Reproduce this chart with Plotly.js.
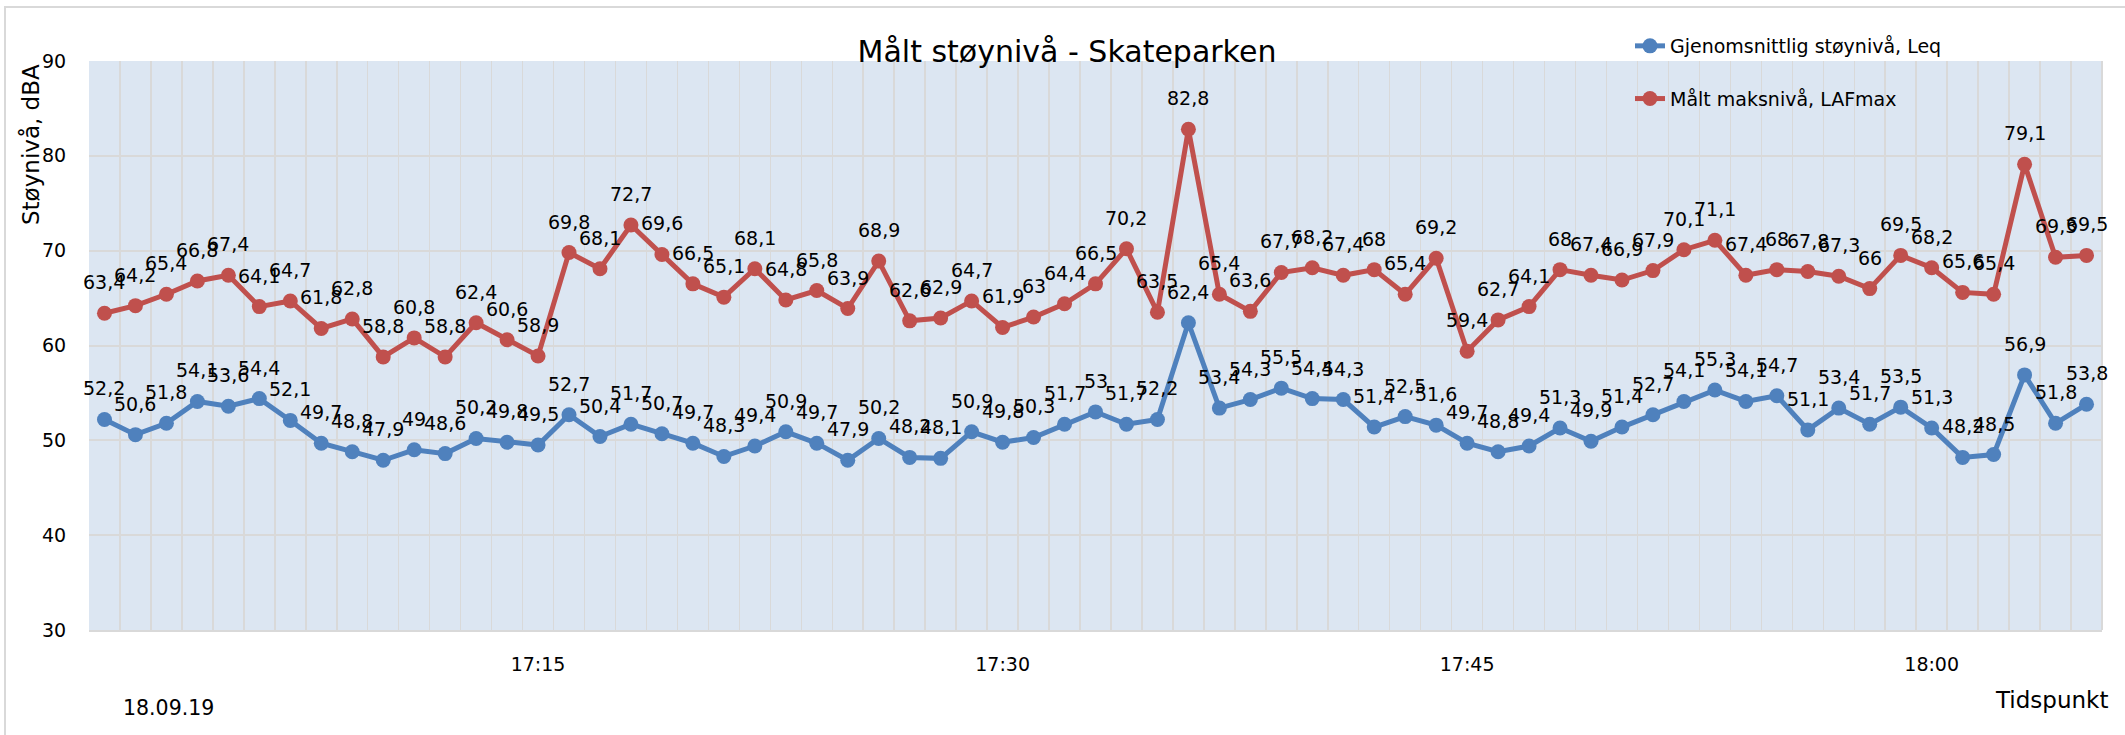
<!DOCTYPE html>
<html>
<head>
<meta charset="utf-8">
<script src="https://cdn.plot.ly/plotly-3.0.1.min.js"></script>
<style>html,body{margin:0;padding:0;background:#fff;}#chart{width:2125px;height:735px;}</style>
</head>
<body>
<div id="chart"></div>
<script>
const times = ['17:01','17:02','17:03','17:04','17:05','17:06','17:07','17:08','17:09','17:10',
  '17:11','17:12','17:13','17:14','17:15','17:16','17:17','17:18','17:19','17:20',
  '17:21','17:22','17:23','17:24','17:25','17:26','17:27','17:28','17:29','17:30',
  '17:31','17:32','17:33','17:34','17:35','17:36','17:37','17:38','17:39','17:40',
  '17:41','17:42','17:43','17:44','17:45','17:46','17:47','17:48','17:49','17:50',
  '17:51','17:52','17:53','17:54','17:55','17:56','17:57','17:58','17:59','18:00',
  '18:01','18:02','18:03','18:04','18:05'];
const tickLabels = ['17:15','17:30','17:45','18:00'];
const leq = [52.2,50.6,51.8,54.1,53.6,54.4,52.1,49.7,48.8,47.9,
  49,48.6,50.2,49.8,49.5,52.7,50.4,51.7,50.7,49.7,
  48.3,49.4,50.9,49.7,47.9,50.2,48.2,48.1,50.9,49.8,
  50.3,51.7,53,51.7,52.2,62.4,53.4,54.3,55.5,54.4,
  54.3,51.4,52.5,51.6,49.7,48.8,49.4,51.3,49.9,51.4,
  52.7,54.1,55.3,54.1,54.7,51.1,53.4,51.7,53.5,51.3,
  48.2,48.5,56.9,51.8,53.8];
const lafmax = [63.4,64.2,65.4,66.8,67.4,64.1,64.7,61.8,62.8,58.8,
  60.8,58.8,62.4,60.6,58.9,69.8,68.1,72.7,69.6,66.5,
  65.1,68.1,64.8,65.8,63.9,68.9,62.6,62.9,64.7,61.9,
  63,64.4,66.5,70.2,63.5,82.8,65.4,63.6,67.7,68.2,
  67.4,68,65.4,69.2,59.4,62.7,64.1,68,67.4,66.9,
  67.9,70.1,71.1,67.4,68,67.8,67.3,66,69.5,68.2,
  65.6,65.4,79.1,69.3,69.5];
const seriesNames = ['Gjenomsnittlig støynivå, Leq', 'Målt maksnivå, LAFmax'];
const colors = ['#4F81BD', '#C0504D'];

const FONT = '"DejaVu Sans", Verdana, sans-serif';
const W = 2125, H = 735;
const M = {l: 89, r: 23, t: 61, b: 105};
const pw = W - M.l - M.r, ph = H - M.t - M.b;
const px = x => (x - M.l) / pw;
const py = y => (H - M.b - y) / ph;

function mk(name, y, color, grp) {
  return {
    type: 'scatter', mode: 'lines+markers', name: name, x: times, y: y,
    legendgroup: grp,
    line: {color: color, width: 5},
    marker: {color: color, size: 15},
    hoverinfo: 'x+y'
  };
}
const data = [mk(seriesNames[0], leq, colors[0], 'a'), mk(seriesNames[1], lafmax, colors[1], 'b')];

const fmt = v => String(v).replace('.', ',');
const annotations = [];
[leq, lafmax].forEach(arr => {
  arr.forEach((v, i) => {
    annotations.push({x: times[i], y: v, xref: 'x', yref: 'y', text: fmt(v), showarrow: false,
      yshift: 31, font: {family: FONT, size: 19, color: '#000'}});
  });
});
annotations.push({xref: 'paper', yref: 'paper', x: px(30), y: py(145), text: 'Støynivå, dBA',
  textangle: -90, showarrow: false, xanchor: 'center', yanchor: 'middle',
  font: {family: FONT, size: 23, color: '#000'}});
annotations.push({xref: 'paper', yref: 'paper', x: px(2110), y: py(700), text: 'Tidspunkt',
  showarrow: false, xanchor: 'right', yanchor: 'middle',
  font: {family: FONT, size: 23, color: '#000'}});
annotations.push({xref: 'paper', yref: 'paper', x: px(168), y: py(708), text: '18.09.19',
  showarrow: false, xanchor: 'center', yanchor: 'middle',
  font: {family: FONT, size: 20.5, color: '#000'}});

const layout = {
  width: W, height: H,
  margin: M,
  paper_bgcolor: '#fff',
  plot_bgcolor: '#DCE6F2',
  font: {family: FONT, color: '#000'},
  title: {text: 'Målt støynivå - Skateparken', font: {family: FONT, size: 30, color: '#000'},
    x: px(1067), xref: 'paper', xanchor: 'center', y: 1 - 51 / H, yanchor: 'middle'},
  showlegend: true,
  legend: {x: px(1630), y: py(27), xanchor: 'left', yanchor: 'top', bgcolor: 'rgba(0,0,0,0)',
    font: {family: FONT, size: 19, color: '#000'}, traceorder: 'grouped', tracegroupgap: 25,
    itemwidth: 30},
  xaxis: {
    type: 'category', categoryorder: 'array', categoryarray: times,
    range: [-0.5, times.length - 0.5],
    tickson: 'boundaries', tickmode: 'array', tickvals: times,
    ticktext: times.map(t => tickLabels.includes(t) ? t : ''),
    tickangle: 0,
    showgrid: true, gridcolor: '#D9D9D9', gridwidth: 1.5,
    ticks: 'outside', ticklen: 17, tickcolor: 'rgba(0,0,0,0)',
    ticklabelstandoff: 16,
    tickfont: {family: FONT, size: 19, color: '#000'},
    showline: true, linecolor: '#D9D9D9', linewidth: 2, mirror: false,
    zeroline: false, fixedrange: true
  },
  yaxis: {
    range: [30, 90], dtick: 10, tick0: 30,
    showgrid: true, gridcolor: '#D9D9D9', gridwidth: 2,
    ticks: 'outside', ticklen: 18, tickcolor: 'rgba(0,0,0,0)',
    tickfont: {family: FONT, size: 19, color: '#000'},
    zeroline: false, showline: false, fixedrange: true
  },
  annotations: annotations,
  shapes: [
    {type: 'rect', xref: 'paper', yref: 'paper', x0: px(5), y0: py(745), x1: px(2135), y1: py(7),
      line: {color: '#D9D9D9', width: 2}, fillcolor: 'rgba(0,0,0,0)', layer: 'below'},
    {type: 'line', xref: 'paper', yref: 'paper', x0: 1, x1: 1, y0: 0, y1: 1,
      line: {color: '#D9D9D9', width: 2}, layer: 'below'}
  ]
};
Plotly.newPlot('chart', data, layout, {displayModeBar: false, staticPlot: true});
</script>
</body>
</html>
